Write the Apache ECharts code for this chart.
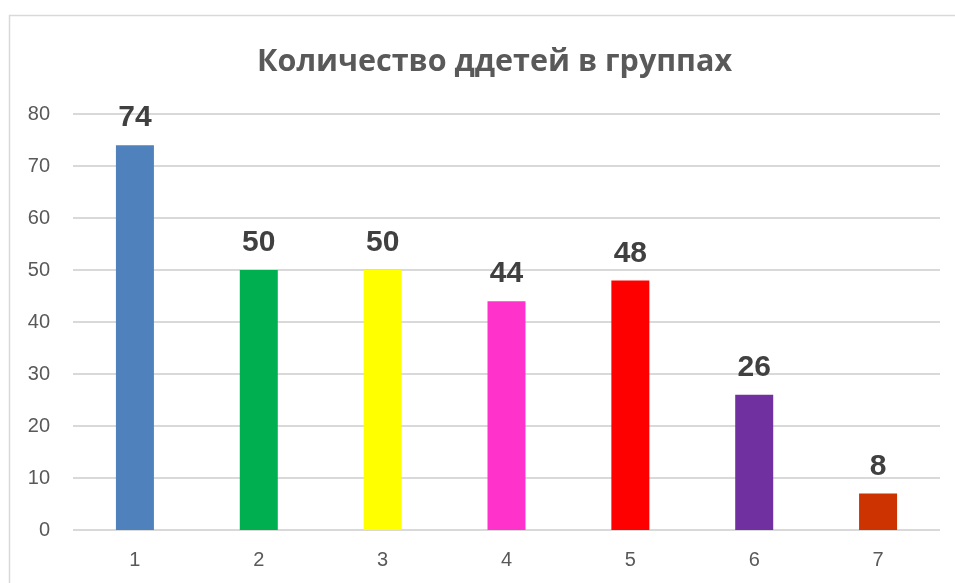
<!DOCTYPE html>
<html>
<head>
<meta charset="utf-8">
<script src="https://cdn.jsdelivr.net/npm/echarts@6/dist/echarts.min.js"></script>
<style>
  html, body { margin: 0; padding: 0; background: #fff; }
</style>
</head>
<body>
<div id="groups" style="width: 955px; height: 583px;"></div>
<script>
// группы и количество детей
const groupNames = ['1', '2', '3', '4', '5', '6', '7'];
const childCounts = [74, 50, 50, 44, 48, 26, 7];
const countLabels = ['74', '50', '50', '44', '48', '26', '8'];
const barColors = ['#4F81BD', '#00B050', '#FFFF00', '#FF33CC', '#FF0000', '#7030A0', '#CC3300'];
const yTicks = [0, 10, 20, 30, 40, 50, 60, 70, 80];

let myChart = echarts.init(document.getElementById('groups'));
let option = {
  animation: false,
  title: {
    text: 'Количество ддетей в группах',
    left: 252,
    top: 42,
    textStyle: {
      color: '#595959',
      fontSize: 30.5,
      fontWeight: 'bold',
      fontFamily: 'Open Sans'
    }
  },
  graphic: [{
    type: 'rect',
    shape: { x: 9.5, y: 15.5, width: 960, height: 600 },
    style: { fill: 'none', stroke: '#d9d9d9', lineWidth: 1.5 },
    silent: true
  }],
  grid: {
    left: 73,
    right: 15,
    top: 114,
    bottom: 53
  },
  xAxis: {
    type: 'category',
    data: groupNames,
    axisLine: { show: false },
    axisTick: { show: false },
    axisLabel: {
      color: '#595959',
      fontSize: 20,
      fontFamily: 'Liberation Sans',
      margin: 20
    }
  },
  yAxis: {
    type: 'value',
    min: yTicks[0],
    max: yTicks[yTicks.length - 1],
    interval: 10,
    axisLine: { show: false },
    axisTick: { show: false },
    axisLabel: {
      color: '#595959',
      fontSize: 20,
      fontFamily: 'Liberation Sans',
      margin: 23
    },
    splitLine: {
      lineStyle: { color: '#d9d9d9', width: 2 }
    }
  },
  series: [{
    type: 'bar',
    barWidth: 38,
    data: childCounts.map((v, i) => ({
      value: v,
      itemStyle: { color: barColors[i] }
    })),
    label: {
      show: true,
      position: 'top',
      distance: 12,
      color: '#404040',
      fontSize: 30,
      fontWeight: 'bold',
      fontFamily: 'Liberation Sans',
      formatter: (p) => countLabels[p.dataIndex]
    }
  }]
};
myChart.setOption(option);
</script>
</body>
</html>
